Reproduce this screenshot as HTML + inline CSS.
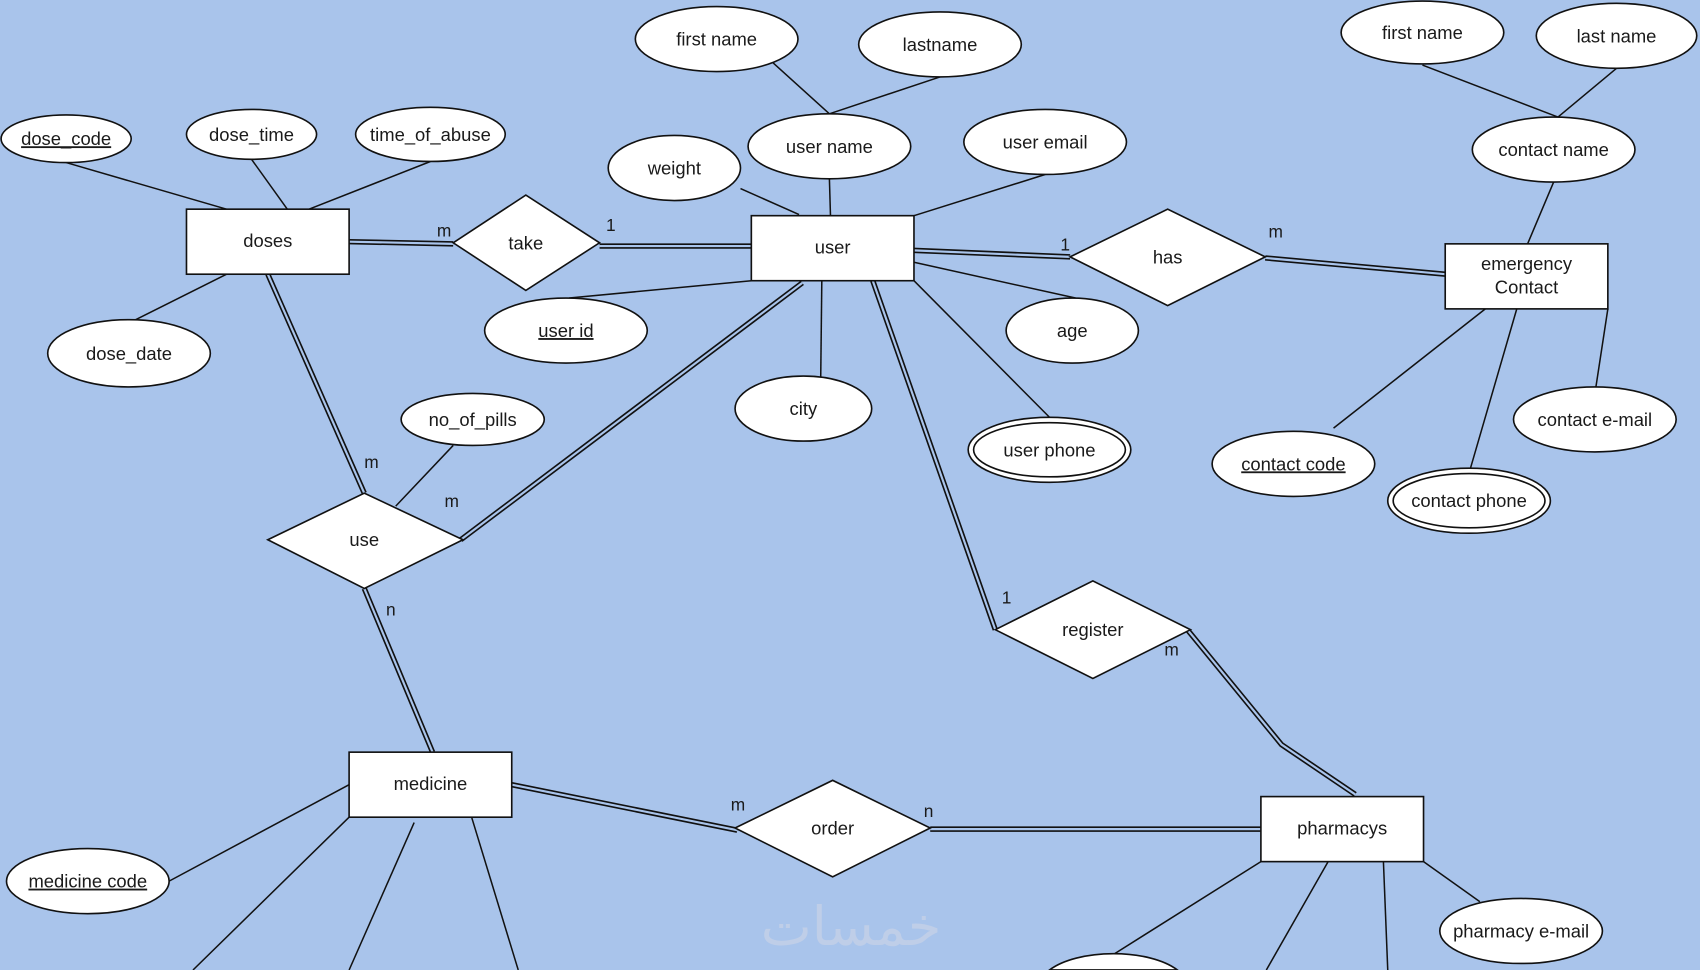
<!DOCTYPE html>
<html><head><meta charset="utf-8"><style>
html,body{margin:0;padding:0;background:#a9c4eb;width:1700px;height:970px;overflow:hidden;}
svg{display:block;overflow:hidden;}
text{font-family:"Liberation Sans",Arial,sans-serif;font-size:17px;fill:#1a1a1a;}
.s{stroke:#111;stroke-width:1.4;fill:none;}
.d1{stroke:#111;stroke-width:5;fill:none;}
.d2{stroke:#a9c4eb;stroke-width:2;fill:none;}
.sh{fill:#fff;stroke:#111;stroke-width:1.5;}
.lb{font-size:16px;}
</style></head><body>
<svg width="1700" height="970" viewBox="0 0 1568 895" preserveAspectRatio="none" xmlns="http://www.w3.org/2000/svg">
<rect x="0" y="0" width="1568" height="895" fill="#a9c4eb"/>
<text x="785" y="872" text-anchor="middle" style="font-family:'DejaVu Sans',sans-serif;font-size:50px;fill:#bfcee8;">خمسات</text>
<!-- single lines -->
<g class="s">
<line x1="61" y1="150" x2="209" y2="193"/>
<line x1="232" y1="147" x2="265" y2="193"/>
<line x1="397" y1="149" x2="285" y2="193"/>
<line x1="121" y1="297" x2="209" y2="253"/>
<line x1="713" y1="58" x2="765" y2="105"/>
<line x1="867" y1="71" x2="765" y2="105"/>
<line x1="765" y1="165" x2="766" y2="199"/>
<line x1="683" y1="174" x2="737" y2="198"/>
<line x1="964" y1="161" x2="843" y2="199"/>
<line x1="525" y1="275" x2="693" y2="259"/>
<line x1="843" y1="242" x2="992" y2="275"/>
<line x1="758" y1="259" x2="757" y2="348"/>
<line x1="843" y1="259" x2="968" y2="385"/>
<line x1="418" y1="411" x2="365" y2="467"/>
<line x1="1433" y1="168" x2="1409" y2="225"/>
<line x1="1312" y1="60" x2="1437" y2="108"/>
<line x1="1491" y1="63" x2="1437" y2="108"/>
<line x1="1370" y1="285" x2="1230" y2="395"/>
<line x1="1399" y1="285" x2="1356" y2="433"/>
<line x1="1483" y1="285" x2="1472" y2="357"/>
<line x1="322" y1="724" x2="156" y2="813"/>
<line x1="322" y1="754" x2="178" y2="895"/>
<line x1="382" y1="759" x2="322" y2="895"/>
<line x1="435" y1="754" x2="478" y2="895"/>
<line x1="1163" y1="795" x2="1028" y2="880"/>
<line x1="1225" y1="795" x2="1168" y2="895"/>
<line x1="1276" y1="795" x2="1280" y2="895"/>
<line x1="1313" y1="795" x2="1365" y2="832"/>
</g>
<!-- double lines -->
<g class="d1">
<line x1="322" y1="223" x2="418" y2="225"/>
<line x1="553" y1="227" x2="693" y2="227"/>
<line x1="843" y1="231" x2="987" y2="237"/>
<line x1="1167" y1="238" x2="1333" y2="253"/>
<line x1="740" y1="261" x2="425" y2="498"/>
<line x1="247" y1="253" x2="336" y2="455"/>
<line x1="336" y1="543" x2="399" y2="694"/>
<line x1="805" y1="259" x2="918" y2="581"/>
<polyline points="1096,582 1182,687 1250,733"/>
<line x1="472" y1="724" x2="680" y2="766"/>
<line x1="858" y1="765" x2="1163" y2="765"/>
</g>
<g class="d2">
<line x1="322" y1="223" x2="418" y2="225"/>
<line x1="553" y1="227" x2="693" y2="227"/>
<line x1="843" y1="231" x2="987" y2="237"/>
<line x1="1167" y1="238" x2="1333" y2="253"/>
<line x1="740" y1="261" x2="425" y2="498"/>
<line x1="247" y1="253" x2="336" y2="455"/>
<line x1="336" y1="543" x2="399" y2="694"/>
<line x1="805" y1="259" x2="918" y2="581"/>
<polyline points="1096,582 1182,687 1250,733"/>
<line x1="472" y1="724" x2="680" y2="766"/>
<line x1="858" y1="765" x2="1163" y2="765"/>
</g>
<!-- entities -->
<g class="sh">
<rect x="172" y="193" width="150" height="60"/>
<rect x="693" y="199" width="150" height="60"/>
<rect x="1333" y="225" width="150" height="60"/>
<rect x="322" y="694" width="150" height="60"/>
<rect x="1163" y="735" width="150" height="60"/>
<!-- diamonds -->
<polygon points="418,224 485,180 553,224 485,268"/>
<polygon points="987,237 1077,193 1167,237 1077,282"/>
<polygon points="247,498 336,455 427,498 336,543"/>
<polygon points="918,581 1008,536 1098,581 1008,626"/>
<polygon points="678,764 768,720 858,764 768,809"/>
<!-- ellipses -->
<ellipse cx="61" cy="128" rx="60" ry="22"/>
<ellipse cx="232" cy="124" rx="60" ry="23"/>
<ellipse cx="397" cy="124" rx="69" ry="25"/>
<ellipse cx="119" cy="326" rx="75" ry="31"/>
<ellipse cx="661" cy="36" rx="75" ry="30"/>
<ellipse cx="867" cy="41" rx="75" ry="30"/>
<ellipse cx="765" cy="135" rx="75" ry="30"/>
<ellipse cx="622" cy="155" rx="61" ry="30"/>
<ellipse cx="964" cy="131" rx="75" ry="30"/>
<ellipse cx="522" cy="305" rx="75" ry="30"/>
<ellipse cx="989" cy="305" rx="61" ry="30"/>
<ellipse cx="741" cy="377" rx="63" ry="30"/>
<ellipse cx="968" cy="415" rx="75" ry="30"/>
<ellipse cx="968" cy="415" rx="70" ry="25"/>
<ellipse cx="436" cy="387" rx="66" ry="24"/>
<ellipse cx="1312" cy="30" rx="75" ry="29"/>
<ellipse cx="1491" cy="33" rx="74" ry="30"/>
<ellipse cx="1433" cy="138" rx="75" ry="30"/>
<ellipse cx="1471" cy="387" rx="75" ry="30"/>
<ellipse cx="1193" cy="428" rx="75" ry="30"/>
<ellipse cx="1355" cy="462" rx="75" ry="30"/>
<ellipse cx="1355" cy="462" rx="70" ry="25"/>
<ellipse cx="81" cy="813" rx="75" ry="30"/>
<ellipse cx="1403" cy="859" rx="75" ry="30"/>
<path d="M968,895 A68,30 0 0 1 1086,895 Z"/>
</g>
<!-- shape labels -->
<g text-anchor="middle">
<text x="247" y="228">doses</text>
<text x="768" y="234">user</text>
<text x="1408" y="249">emergency</text>
<text x="1408" y="271">Contact</text>
<text x="397" y="729">medicine</text>
<text x="1238" y="770">pharmacys</text>
<text x="485" y="230">take</text>
<text x="1077" y="243">has</text>
<text x="336" y="504">use</text>
<text x="1008" y="587">register</text>
<text x="768" y="770">order</text>
<text x="61" y="134" text-decoration="underline">dose_code</text>
<text x="232" y="130">dose_time</text>
<text x="397" y="130">time_of_abuse</text>
<text x="119" y="332">dose_date</text>
<text x="661" y="42">first name</text>
<text x="867" y="47">lastname</text>
<text x="765" y="141">user name</text>
<text x="622" y="161">weight</text>
<text x="964" y="137">user email</text>
<text x="522" y="311" text-decoration="underline">user id</text>
<text x="989" y="311">age</text>
<text x="741" y="383">city</text>
<text x="968" y="421">user phone</text>
<text x="436" y="393">no_of_pills</text>
<text x="1312" y="36">first name</text>
<text x="1491" y="39">last name</text>
<text x="1433" y="144">contact name</text>
<text x="1471" y="393">contact e-mail</text>
<text x="1193" y="434" text-decoration="underline">contact code</text>
<text x="1355" y="468">contact phone</text>
<text x="81" y="819" text-decoration="underline">medicine code</text>
<text x="1403" y="865">pharmacy e-mail</text>
</g>
<!-- cardinality labels -->
<g class="lb">
<text class="lb" x="403" y="218">m</text>
<text class="lb" x="559" y="213">1</text>
<text class="lb" x="978" y="231">1</text>
<text class="lb" x="1170" y="219">m</text>
<text class="lb" x="336" y="432">m</text>
<text class="lb" x="410" y="468">m</text>
<text class="lb" x="356" y="568">n</text>
<text class="lb" x="924" y="557">1</text>
<text class="lb" x="1074" y="605">m</text>
<text class="lb" x="674" y="748">m</text>
<text class="lb" x="852" y="754">n</text>
</g>
</svg>
</body></html>
